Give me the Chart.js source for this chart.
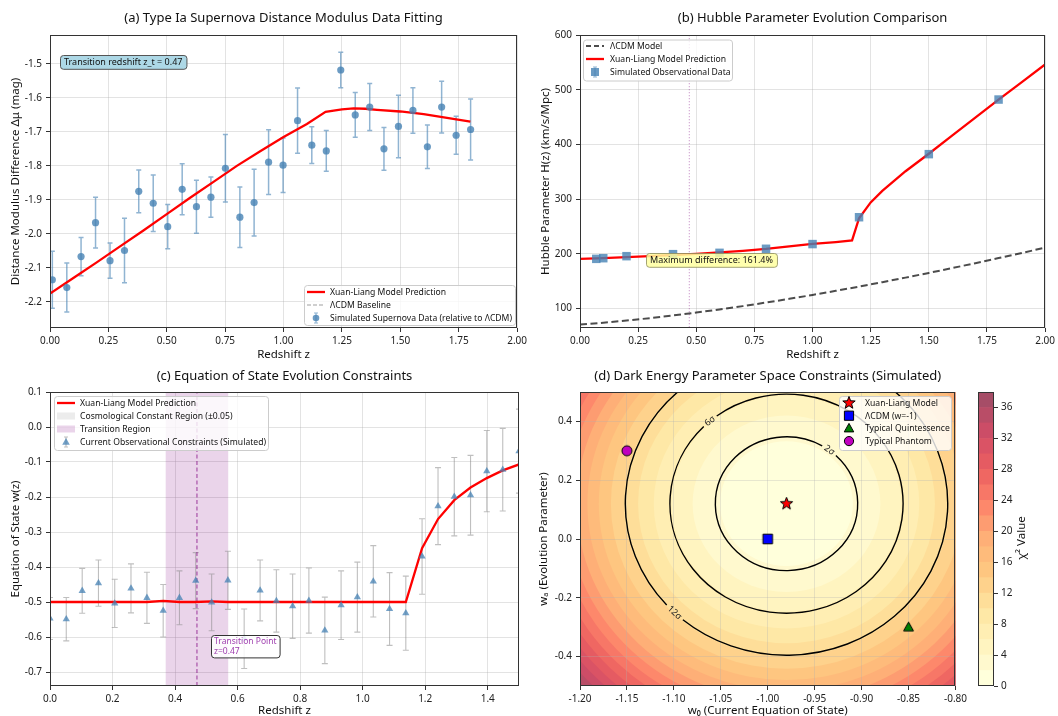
<!DOCTYPE html>
<html><head><meta charset="utf-8">
<script src="https://cdn.jsdelivr.net/npm/chart.js@4.4.1/dist/chart.umd.min.js"></script>
<style>
html,body{margin:0;padding:0;background:#fff;}
#wrap{position:relative;width:1058px;height:716px;overflow:hidden;background:#fff;}
canvas{position:absolute;}
</style></head><body><div id="wrap">
<canvas id="ca" width="530" height="366" style="left:0px;top:0px;width:530px;height:366px"></canvas>
<canvas id="cb" width="528" height="366" style="left:530px;top:0px;width:528px;height:366px"></canvas>
<canvas id="cc" width="530" height="350" style="left:0px;top:366px;width:530px;height:350px"></canvas>
<canvas id="cd" width="440" height="350" style="left:530px;top:366px;width:440px;height:350px"></canvas>
<canvas id="ce" width="88" height="350" style="left:970px;top:366px;width:88px;height:350px"></canvas>
</div>
<script>
// ================= DATA =================
// (a) Type Ia supernova distance modulus difference
const snZ = [0.010,0.072,0.133,0.195,0.257,0.319,0.380,0.442,0.504,0.566,0.627,0.689,0.751,0.813,0.874,0.936,0.998,1.060,1.121,1.183,1.245,1.307,1.369,1.430,1.492,1.554,1.616,1.677,1.739,1.801];
const snDmu = [-2.135,-2.158,-2.067,-1.967,-2.079,-2.049,-1.875,-1.910,-1.979,-1.869,-1.920,-1.892,-1.807,-1.951,-1.908,-1.789,-1.798,-1.667,-1.739,-1.756,-1.518,-1.650,-1.627,-1.750,-1.684,-1.637,-1.744,-1.627,-1.710,-1.693];
const snErr = [0.084,0.072,0.056,0.075,0.052,0.095,0.063,0.083,0.065,0.075,0.078,0.059,0.099,0.089,0.098,0.095,0.080,0.096,0.054,0.060,0.052,0.066,0.069,0.063,0.092,0.067,0.064,0.076,0.056,0.090];
const snModelZ = [0,0.1,0.2,0.3,0.4,0.5,0.6,0.7,0.8,0.9,1.0,1.1,1.18,1.25,1.3,1.35,1.4,1.5,1.6,1.7,1.8];
const snModelDmu = [-2.176,-2.130,-2.084,-2.037,-1.990,-1.942,-1.894,-1.847,-1.800,-1.757,-1.715,-1.677,-1.641,-1.634,-1.631,-1.632,-1.635,-1.640,-1.648,-1.659,-1.670];
const lcdmBaseZ = [0,2];
const lcdmBaseDmu = [0,0];
const aXTicks = [0,0.25,0.5,0.75,1.0,1.25,1.5,1.75,2.0];
const aYTicks = [-2.2,-2.1,-2.0,-1.9,-1.8,-1.7,-1.6,-1.5];
const transitionZ = 0.47;

// (b) Hubble parameter
const hzGridZ = [0,0.1,0.2,0.3,0.4,0.5,0.6,0.7,0.8,0.9,1.0,1.1,1.2,1.3,1.4,1.5,1.6,1.7,1.8,1.9,2.0];
const hzLcdm = [70.6,74.1,78.0,82.4,87.3,92.6,98.3,104.4,110.9,117.7,124.8,132.3,140.1,148.2,156.5,165.1,173.9,182.9,192.2,201.6,211.3];
const hzModelZ = [0,0.1,0.2,0.3,0.4,0.5,0.6,0.7,0.8,0.9,1.0,1.1,1.17,1.2,1.25,1.3,1.4,1.5,1.6,1.7,1.8,1.9,2.0];
const hzModel = [190.8,192.3,194.0,195.8,197.8,200.0,202.5,205.5,209.0,213.5,218.0,221.5,224.5,265.0,294.0,315.0,351.0,383.0,416.0,449.0,482.0,514.0,546.0];
const hzObsZ = [0.07,0.1,0.2,0.4,0.6,0.8,1.0,1.2,1.5,1.8];
const hzObsH = [190.8,192.0,195.7,199.4,201.8,209.2,217.8,266.9,382.2,482.0];
const bXTicks = [0,0.25,0.5,0.75,1.0,1.25,1.5,1.75,2.0];
const bYTicks = [100,200,300,400,500,600];

// (c) Equation of state
const wZ = [0.000,0.052,0.103,0.155,0.207,0.259,0.310,0.362,0.414,0.466,0.517,0.569,0.621,0.672,0.724,0.776,0.828,0.879,0.931,0.983,1.034,1.086,1.138,1.190,1.241,1.293,1.345,1.397,1.448,1.500];
const wModel = [-0.5,-0.5,-0.5,-0.5,-0.5,-0.5,-0.5,-0.497,-0.5,-0.5,-0.498,-0.5,-0.5,-0.5,-0.5,-0.5,-0.5,-0.5,-0.5,-0.5,-0.5,-0.5,-0.5,-0.346,-0.263,-0.209,-0.173,-0.146,-0.124,-0.107];
const wObs = [-0.547,-0.549,-0.468,-0.446,-0.504,-0.461,-0.488,-0.525,-0.488,-0.439,-0.501,-0.438,-0.605,-0.467,-0.497,-0.512,-0.496,-0.581,-0.509,-0.486,-0.441,-0.520,-0.532,-0.370,-0.226,-0.199,-0.195,-0.126,-0.122,-0.069];
const wErr = [0.060,0.062,0.064,0.066,0.069,0.070,0.073,0.075,0.077,0.080,0.081,0.083,0.085,0.087,0.089,0.092,0.093,0.095,0.098,0.100,0.102,0.104,0.106,0.108,0.110,0.112,0.114,0.116,0.118,0.120];
const transitionRegion = [0.37,0.57];
const lambdaBand = [-1.05,-0.95];
const cXTicks = [0,0.2,0.4,0.6,0.8,1.0,1.2,1.4];
const cYTicks = [-0.7,-0.6,-0.5,-0.4,-0.3,-0.2,-0.1,0,0.1];

// (d) parameter space
const chi2Levels = [0,2,4,6,8,10,12,14,16,18,20,22,24,26,28,30,32,34,36,38];
const sigmaLevels = [2.3,6.17,11.8];
const sigmaLabels = ['2σ','6σ','12σ'];
const fitCenter = [-0.98,0.12];
const fitSigma = [0.05,0.15];
const refNames = ['Xuan-Liang Model','ΛCDM (w=-1)','Typical Quintessence','Typical Phantom'];
const refW0 = [-0.98,-1.00,-0.85,-1.15];
const refWa = [0.12,0.00,-0.30,0.30];
const dXTicks = [-1.2,-1.15,-1.1,-1.05,-1.0,-0.95,-0.9,-0.85,-0.8];
const dYTicks = [-0.4,-0.2,0,0.2,0.4];
const cbTicks = [0,4,8,12,16,20,24,28,32,36];

// ================= HELPERS =================
const FONT = '"Noto Sans", "DejaVu Sans", sans-serif';
Chart.defaults.font.family = FONT;
Chart.defaults.color = '#222';
const GRID = 'rgba(176,176,176,0.35)';
const STEEL = 'rgba(70,130,180,0.8)';
const LEG_FS = 8.6;

function pts(xs, ys){ return xs.map((x,i)=>({x:x, y:ys[i]})); }
function rrect(ctx,x,y,w,h,r){ ctx.beginPath(); ctx.moveTo(x+r,y); ctx.arcTo(x+w,y,x+w,y+h,r); ctx.arcTo(x+w,y+h,x,y+h,r); ctx.arcTo(x,y+h,x,y,r); ctx.arcTo(x,y,x+w,y,r); ctx.closePath(); }
function drawMarker(ctx, kind, x, y, s, fill, stroke, lw){
  ctx.beginPath();
  if(kind==='circle'){ ctx.arc(x,y,s,0,2*Math.PI); }
  else if(kind==='square'){ ctx.rect(x-s,y-s,2*s,2*s); }
  else if(kind==='triangle'){ ctx.moveTo(x,y-s); ctx.lineTo(x+s*0.95,y+s*0.7); ctx.lineTo(x-s*0.95,y+s*0.7); ctx.closePath(); }
  else if(kind==='star'){ for(let i=0;i<10;i++){ const r=i%2? s*0.42 : s; const a=-Math.PI/2+i*Math.PI/5; const px=x+r*Math.cos(a), py=y+r*Math.sin(a); if(i) ctx.lineTo(px,py); else ctx.moveTo(px,py);} ctx.closePath(); }
  if(fill){ ctx.fillStyle=fill; ctx.fill(); }
  if(stroke){ ctx.strokeStyle=stroke; ctx.lineWidth=lw||1; ctx.stroke(); }
}
function markerImage(kind, s, fill, stroke){
  const c=document.createElement('canvas'); const n=Math.ceil(2*s+4); c.width=n; c.height=n;
  drawMarker(c.getContext('2d'), kind, n/2, n/2, s, fill, stroke, 1); return c;
}
const YLORRD=[[255,255,204],[255,237,160],[254,217,118],[254,178,76],[253,141,60],[252,78,42],[227,26,28],[189,0,38],[128,0,38]];
function cmap(t){ t=Math.max(0,Math.min(1,t)); const s=t*(YLORRD.length-1); const i=Math.min(Math.floor(s),YLORRD.length-2); const f=s-i; return YLORRD[i].map((c,k)=>c+(YLORRD[i+1][k]-c)*f); }
const HEAT_ALPHA=0.7;
function bandColor(k){ const n=chi2Levels.length-1; const c=cmap(k/(n-1)); return 'rgb('+c.map(v=>Math.round(255*(1-HEAT_ALPHA)+v*HEAT_ALPHA)).join(',')+')'; }

function axis(o){
  return {
    type:'linear', position:o.pos, min:o.min, max:o.max,
    afterBuildTicks: s => { s.ticks = o.ticks.map(v=>({value:v})); },
    afterFit: s => { if(o.pos==='bottom') s.height=o.size; else s.width=o.size; },
    ticks:{ callback: v => o.fmt(v), color:'#222', font:{size:10}, padding:o.tpad ?? 3, autoSkip:false, maxRotation:0, minRotation:0 },
    grid:{ color:GRID, tickColor:'#333', tickLength:4, lineWidth:1, drawOnChartArea:true },
    border:{ display:false },
    title:{ display:!!o.title, text:o.title, color:'#111', font:{size:11.5}, padding:o.titlePad }
  };
}
function baseOpts(o){
  return {
    responsive:false, animation:false, devicePixelRatio:1, events:[],
    layout:{ padding:o.pad },
    scales:{ x:axis(o.x), y:axis(o.y) },
    plugins:{
      legend:{display:false}, tooltip:{enabled:false},
      title:{ display:true, text:o.title, fullSize:false, color:'#111', font:{size:13, weight:'normal'}, padding:o.titlePad }
    }
  };
}
const framePlugin = { id:'frame', afterDatasetsDraw(chart){ const {ctx, chartArea:ca}=chart; ctx.save(); ctx.strokeStyle='#333'; ctx.lineWidth=1; ctx.strokeRect(Math.round(ca.left)+0.5, Math.round(ca.top)+0.5, Math.round(ca.right-ca.left)-1, Math.round(ca.bottom-ca.top)-1); ctx.restore(); } };
function clipArea(ctx, ca){ ctx.beginPath(); ctx.rect(ca.left, ca.top, ca.right-ca.left, ca.bottom-ca.top); ctx.clip(); }

function errorBars(dsIndex, errs, color, lw, cap){
  return { id:'err'+dsIndex, beforeDatasetsDraw(chart){
    const {ctx, chartArea:ca, scales:{x,y}}=chart; const data=chart.data.datasets[dsIndex].data;
    ctx.save(); clipArea(ctx, ca); ctx.strokeStyle=color; ctx.lineWidth=lw;
    data.forEach((p,j)=>{ const px=x.getPixelForValue(p.x), y1=y.getPixelForValue(p.y-errs[j]), y2=y.getPixelForValue(p.y+errs[j]);
      ctx.beginPath(); ctx.moveTo(px,y1); ctx.lineTo(px,y2); ctx.moveTo(px-cap,y1); ctx.lineTo(px+cap,y1); ctx.moveTo(px-cap,y2); ctx.lineTo(px+cap,y2); ctx.stroke(); });
    ctx.restore(); } };
}
function spans(list){
  return { id:'spans', beforeDatasetsDraw(chart){ const {ctx, chartArea:ca, scales:{x,y}}=chart; ctx.save(); clipArea(ctx, ca);
    list.forEach(s=>{ ctx.fillStyle=s.color; if(s.axis==='x'){ const a=x.getPixelForValue(s.range[0]), b=x.getPixelForValue(s.range[1]); ctx.fillRect(a, ca.top, b-a, ca.bottom-ca.top); } else { const a=y.getPixelForValue(s.range[1]), b=y.getPixelForValue(s.range[0]); ctx.fillRect(ca.left, a, ca.right-ca.left, b-a); } });
    ctx.restore(); } };
}
function legendPlugin(spec, ox, oy){
  return { id:'customLegend', afterDraw(chart){ const ctx=chart.ctx; ctx.save();
    const bx=spec.x-ox, by=spec.y-oy;
    rrect(ctx, bx+0.5, by+0.5, spec.w, spec.h, 3); ctx.fillStyle='rgba(255,255,255,0.8)'; ctx.fill(); ctx.strokeStyle='#cccccc'; ctx.lineWidth=1; ctx.stroke();
    spec.items.forEach((it,i)=>{ const yy=spec.y0-oy+i*spec.dy; const hx=bx+3;
      ctx.save();
      if(it.kind==='line'){ ctx.strokeStyle=it.color; ctx.lineWidth=it.lw; ctx.setLineDash(it.dash||[]); ctx.beginPath(); ctx.moveTo(hx,yy); ctx.lineTo(hx+18,yy); ctx.stroke(); }
      else if(it.kind==='patch'){ ctx.fillStyle=it.color; ctx.fillRect(hx, yy-3.5, 18, 7); }
      else if(it.kind==='err'){ ctx.strokeStyle=it.ecolor; ctx.lineWidth=1.2; ctx.beginPath(); ctx.moveTo(hx+9,yy-5); ctx.lineTo(hx+9,yy+5); ctx.moveTo(hx+7,yy-5); ctx.lineTo(hx+11,yy-5); ctx.moveTo(hx+7,yy+5); ctx.lineTo(hx+11,yy+5); ctx.stroke(); drawMarker(ctx, it.marker, hx+9, yy, it.size, it.color); }
      else if(it.kind==='marker'){ drawMarker(ctx, it.marker, bx+10, yy, it.size, it.color, '#000', 1); }
      ctx.restore();
      ctx.font=LEG_FS+'px '+FONT; ctx.fillStyle='#111'; ctx.textBaseline='middle'; ctx.textAlign='left'; ctx.fillText(it.label, bx+spec.tx, yy+0.5);
    });
    ctx.restore(); } };
}
function notesPlugin(list){
  return { id:'notes', afterDraw(chart){ const {ctx, scales}=chart;
    list.forEach(n=>{ ctx.save(); ctx.font=n.fs+'px '+FONT; const lh=n.fs*1.2;
      const w=Math.max(...n.lines.map(l=>ctx.measureText(l).width))+2*n.padX; const h=n.lines.length*lh+2*n.padY;
      const px=Math.round(scales.x.getPixelForValue(n.x)); const top=Math.round(scales.y.getPixelForValue(n.y)-h/2);
      rrect(ctx, px+0.5, top+0.5, w, h, 3); ctx.fillStyle=n.bg; ctx.fill(); ctx.strokeStyle=n.border; ctx.lineWidth=1; ctx.stroke();
      ctx.fillStyle=n.color; ctx.textBaseline='middle'; ctx.textAlign='left';
      n.lines.forEach((l,i)=>ctx.fillText(l, px+n.padX, top+n.padY+lh*(i+0.5)+0.5)); ctx.restore(); });
  } };
}

// ================= (a) =================
new Chart(document.getElementById('ca'), {
  type:'scatter',
  data:{ datasets:[
    { label:'Simulated Supernova Data (relative to ΛCDM)', data:pts(snZ,snDmu), pointRadius:3.6, pointBackgroundColor:STEEL, pointBorderWidth:0, clip:0, order:0 },
    { label:'Xuan-Liang Model Prediction', data:pts(snModelZ,snModelDmu), showLine:true, borderColor:'#ff0000', borderWidth:2.3, pointRadius:0, order:1 },
    { label:'ΛCDM Baseline', data:pts(lcdmBaseZ,lcdmBaseDmu), showLine:true, borderColor:'rgba(128,128,128,0.5)', borderDash:[4,2], borderWidth:1.5, pointRadius:0, order:2 }
  ]},
  options: baseOpts({
    pad:{left:0,right:11,top:0,bottom:0}, title:'(a) Type Ia Supernova Distance Modulus Data Fitting', titlePad:{top:10,bottom:9.4},
    x:{pos:'bottom', min:0, max:2, ticks:aXTicks, fmt:v=>v.toFixed(2), size:38, title:'Redshift z', titlePad:{top:0,bottom:4}},
    y:{pos:'left', min:-2.277, max:-1.415, ticks:aYTicks, fmt:v=>v.toFixed(1), size:50, tpad:4, title:'Distance Modulus Difference Δμ (mag)', titlePad:{top:9,bottom:0}}
  }),
  plugins:[ errorBars(0, snErr, 'rgba(70,130,180,0.6)', 1.5, 2.5), framePlugin,
    legendPlugin({x:304,y:285,w:211,h:40,y0:292,dy:13,tx:26,items:[
      {label:'Xuan-Liang Model Prediction', kind:'line', color:'#ff0000', lw:2.3},
      {label:'ΛCDM Baseline', kind:'line', color:'rgba(128,128,128,0.5)', lw:1.5, dash:[4,2]},
      {label:'Simulated Supernova Data (relative to ΛCDM)', kind:'err', marker:'circle', size:3.3, color:STEEL, ecolor:'rgba(70,130,180,0.6)'}
    ]}, 0, 0),
    notesPlugin([{x:0.043, y:-1.495, lines:['Transition redshift z_t = 0.47'], fs:9, padX:4, padY:1.5, bg:'rgb(173,216,230)', border:'#555', color:'#111'}])
  ]
});

// ================= (b) =================
new Chart(document.getElementById('cb'), {
  type:'scatter',
  data:{ datasets:[
    { label:'Simulated Observational Data', data:pts(hzObsZ,hzObsH), pointStyle:'rect', pointRadius:6, pointBackgroundColor:STEEL, pointBorderWidth:0, clip:0, order:0 },
    { label:'Xuan-Liang Model Prediction', data:pts(hzModelZ,hzModel), showLine:true, borderColor:'#ff0000', borderWidth:2.3, pointRadius:0, order:1 },
    { label:'ΛCDM Model', data:pts(hzGridZ,hzLcdm), showLine:true, borderColor:'rgba(0,0,0,0.7)', borderDash:[7,3.5], borderWidth:2, pointRadius:0, order:2 },
    { label:'z_t', data:pts([transitionZ,transitionZ],[0,700]), showLine:true, borderColor:'rgba(128,0,128,0.5)', borderDash:[1,2], borderWidth:1, pointRadius:0, order:3 }
  ]},
  options: baseOpts({
    pad:{left:0,right:8,top:0,bottom:0}, title:'(b) Hubble Parameter Evolution Comparison', titlePad:{top:10,bottom:9.4},
    x:{pos:'bottom', min:0, max:2, ticks:bXTicks, fmt:v=>v.toFixed(2), size:38, title:'Redshift z', titlePad:{top:0,bottom:4}},
    y:{pos:'left', min:64.4, max:600, ticks:bYTicks, fmt:v=>String(v), size:50, tpad:4, title:'Hubble Parameter H(z) (km/s/Mpc)', titlePad:{top:9,bottom:0}}
  }),
  plugins:[ framePlugin,
    legendPlugin({x:583,y:39.5,w:149,h:41,y0:46,dy:13,tx:27,items:[
      {label:'ΛCDM Model', kind:'line', color:'rgba(0,0,0,0.7)', lw:2, dash:[5,3]},
      {label:'Xuan-Liang Model Prediction', kind:'line', color:'#ff0000', lw:2.3},
      {label:'Simulated Observational Data', kind:'err', marker:'square', size:4, color:STEEL, ecolor:'rgba(70,130,180,0.6)'}
    ]}, 530, 0),
    notesPlugin([{x:0.285, y:188, lines:['Maximum difference: 161.4%'], fs:9, padX:4, padY:1.5, bg:'rgba(255,255,160,0.85)', border:'rgba(140,140,90,0.8)', color:'#111'}])
  ]
});

// ================= (c) =================
new Chart(document.getElementById('cc'), {
  type:'scatter',
  data:{ datasets:[
    { label:'Current Observational Constraints (Simulated)', data:pts(wZ,wObs), pointStyle:'triangle', pointRadius:4.2, pointBackgroundColor:'rgba(70,130,180,0.75)', pointBorderWidth:0, clip:0, order:0 },
    { label:'Xuan-Liang Model Prediction', data:pts(wZ,wModel), showLine:true, borderColor:'#ff0000', borderWidth:2.3, pointRadius:0, order:1 },
    { label:'z_t', data:pts([transitionZ,transitionZ],[-1,1]), showLine:true, borderColor:'rgba(128,0,128,0.75)', borderDash:[4,2.5], borderWidth:1, pointRadius:0, order:2 }
  ]},
  options: baseOpts({
    pad:{left:0,right:11,top:0,bottom:0}, title:'(c) Equation of State Evolution Constraints', titlePad:{top:2.2,bottom:8.2},
    x:{pos:'bottom', min:0, max:1.5, ticks:cXTicks, fmt:v=>v.toFixed(1), size:30, title:'Redshift z', titlePad:{top:0,bottom:-1.5}},
    y:{pos:'left', min:-0.74, max:0.1, ticks:cYTicks, fmt:v=>v.toFixed(1), size:50, tpad:4, title:'Equation of State w(z)', titlePad:{top:9,bottom:0}}
  }),
  plugins:[ spans([{axis:'x', range:transitionRegion, color:'rgba(128,0,128,0.17)'},{axis:'y', range:lambdaBand, color:'rgba(128,128,128,0.2)'}]),
    errorBars(0, wErr, 'rgba(128,128,128,0.5)', 1.1, 3), framePlugin,
    legendPlugin({x:54,y:396,w:214,h:54,y0:403,dy:13,tx:26,items:[
      {label:'Xuan-Liang Model Prediction', kind:'line', color:'#ff0000', lw:2.3},
      {label:'Cosmological Constant Region (±0.05)', kind:'patch', color:'rgba(128,128,128,0.15)'},
      {label:'Transition Region', kind:'patch', color:'rgba(128,0,128,0.17)'},
      {label:'Current Observational Constraints (Simulated)', kind:'err', marker:'triangle', size:4, color:'rgba(70,130,180,0.75)', ecolor:'rgba(128,128,128,0.5)'}
    ]}, 0, 366),
    notesPlugin([{x:0.515, y:-0.626, lines:['Transition Point','z=0.47'], fs:8.5, padX:3, padY:1, bg:'rgba(255,255,255,0.85)', border:'#333', color:'#a040b0'}])
  ]
});

// ================= (d) =================
const heatPlugin = { id:'heat', beforeDraw(chart){
  const {ctx, chartArea:ca, scales:{x,y}}=chart; ctx.save(); clipArea(ctx, ca);
  const cx=x.getPixelForValue(fitCenter[0]), cy=y.getPixelForValue(fitCenter[1]); const n=chi2Levels.length-1;
  ctx.fillStyle=bandColor(n-1); ctx.fillRect(ca.left, ca.top, ca.right-ca.left, ca.bottom-ca.top);
  for(let k=n-1;k>=1;k--){ const L=chi2Levels[k];
    const rx=Math.abs(x.getPixelForValue(fitCenter[0]+fitSigma[0]*Math.sqrt(L))-cx);
    const ry=Math.abs(y.getPixelForValue(fitCenter[1]+fitSigma[1]*Math.sqrt(L))-cy);
    ctx.fillStyle=bandColor(k-1); ctx.beginPath(); ctx.ellipse(cx,cy,rx,ry,0,0,2*Math.PI); ctx.fill(); }
  ctx.restore(); } };
const labelAngles = [-53,-131,134];
const contourPlugin = { id:'contours', beforeDatasetsDraw(chart){
  const {ctx, chartArea:ca, scales:{x,y}}=chart; ctx.save(); clipArea(ctx, ca);
  const cx=x.getPixelForValue(fitCenter[0]), cy=y.getPixelForValue(fitCenter[1]);
  sigmaLevels.forEach((L,i)=>{
    const rx=Math.abs(x.getPixelForValue(fitCenter[0]+fitSigma[0]*Math.sqrt(L))-cx);
    const ry=Math.abs(y.getPixelForValue(fitCenter[1]+fitSigma[1]*Math.sqrt(L))-cy);
    const t=labelAngles[i]*Math.PI/180; const lx=cx+rx*Math.cos(t), ly=cy+ry*Math.sin(t);
    ctx.font='9px '+FONT; const tw=ctx.measureText(sigmaLabels[i]).width; const gap=(tw/2+3)/((rx+ry)/2);
    ctx.beginPath(); ctx.ellipse(cx,cy,rx,ry,0,t+gap,t-gap+2*Math.PI); ctx.strokeStyle='#000'; ctx.lineWidth=1.4; ctx.stroke();
    let ang=Math.atan2(ry*Math.cos(t), -rx*Math.sin(t)); if(ang>Math.PI/2) ang-=Math.PI; if(ang<-Math.PI/2) ang+=Math.PI;
    ctx.save(); ctx.translate(lx,ly); ctx.rotate(ang); ctx.fillStyle='#222'; ctx.textAlign='center'; ctx.textBaseline='middle'; ctx.fillText(sigmaLabels[i],0,0); ctx.restore();
  });
  ctx.restore(); } };
const refStyles = [markerImage('star',6.5,'#ff0000','#000'), markerImage('square',4.8,'#0000ff','#000'), markerImage('triangle',5.2,'#008000','#000'), markerImage('circle',5,'#c000c0','#000')];
const dOpts = baseOpts({
  pad:{left:0,right:14,top:0,bottom:0}, title:'(d) Dark Energy Parameter Space Constraints (Simulated)', titlePad:{top:2.2,bottom:8.2},
  x:{pos:'bottom', min:-1.2, max:-0.8, ticks:dXTicks, fmt:v=>v.toFixed(2), size:30, title:'w₀ (Current Equation of State)', titlePad:{top:0,bottom:-1.5}},
  y:{pos:'left', min:-0.5, max:0.5, ticks:dYTicks, fmt:v=>v.toFixed(1), size:50, tpad:4, title:'wₐ (Evolution Parameter)', titlePad:{top:6.5,bottom:0}}
});
dOpts.scales.x.grid.color='rgba(176,176,176,0.3)'; dOpts.scales.y.grid.color='rgba(176,176,176,0.3)';
new Chart(document.getElementById('cd'), {
  type:'scatter',
  data:{ datasets: refNames.map((nm,i)=>({ label:nm, data:[{x:refW0[i], y:refWa[i]}], pointStyle:refStyles[i], pointRadius:6, order:i })) },
  options: dOpts,
  plugins:[ heatPlugin, contourPlugin, framePlugin,
    legendPlugin({x:839,y:396,w:112,h:54,y0:403,dy:12.7,tx:26,items:[
      {label:refNames[0], kind:'marker', marker:'star', size:6.5, color:'#ff0000'},
      {label:refNames[1], kind:'marker', marker:'square', size:4.6, color:'#0000ff'},
      {label:refNames[2], kind:'marker', marker:'triangle', size:5, color:'#008000'},
      {label:refNames[3], kind:'marker', marker:'circle', size:4.6, color:'#c000c0'}
    ]}, 530, 366)
  ]
});

// ================= colorbar =================
const cbLabelPlugin = { id:'cbLabel', afterDraw(chart){ const ctx=chart.ctx; ctx.save(); ctx.translate(52,172); ctx.rotate(-Math.PI/2); ctx.font='11.5px '+FONT; ctx.fillStyle='#111'; ctx.textAlign='center'; ctx.textBaseline='middle'; ctx.fillText('χ² Value',0,0); ctx.restore(); } };
new Chart(document.getElementById('ce'), {
  type:'bar',
  data:{ labels:['χ²'], datasets: chi2Levels.slice(0,-1).map((lv,k)=>({ label:lv+'-'+chi2Levels[k+1], data:[chi2Levels[k+1]-lv], backgroundColor:bandColor(k), borderWidth:0, barPercentage:1, categoryPercentage:1 })) },
  options:{
    responsive:false, animation:false, devicePixelRatio:1, events:[],
    layout:{padding:{left:8,right:0,top:26,bottom:30}},
    plugins:{legend:{display:false}, tooltip:{enabled:false}},
    scales:{
      x:{ type:'category', display:false, stacked:true },
      y:{ type:'linear', position:'right', min:0, max:38, stacked:true,
        afterBuildTicks: s => { s.ticks = cbTicks.map(v=>({value:v})); },
        afterFit: s => { s.width = 64; },
        ticks:{ color:'#222', font:{size:10}, padding:3, callback:v=>String(v) },
        grid:{ drawOnChartArea:false, tickColor:'#333', tickLength:4 }, border:{display:false} }
    }
  },
  plugins:[ framePlugin, cbLabelPlugin ]
});
</script></body></html>
